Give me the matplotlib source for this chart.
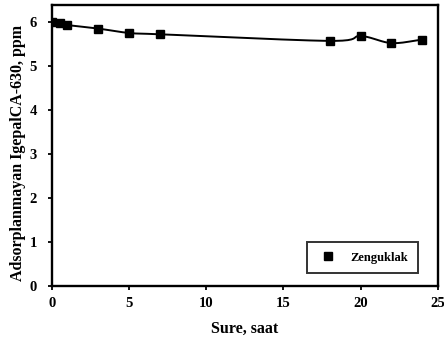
import numpy as np
import matplotlib
matplotlib.use("Agg")
import matplotlib.pyplot as plt

# Zenguklak series
sure = [0, 0.5, 1, 3, 5, 7, 18, 20, 22, 24]
ppm = [6.02, 5.98, 5.94, 5.86, 5.76, 5.73, 5.58, 5.69, 5.53, 5.61]
xticks = [0, 5, 10, 15, 20, 25]
yticks = [0, 1, 2, 3, 4, 5, 6]


def smooth(x, y, n=20):
    # Catmull-Rom curve through the points, like Excel's smoothed line
    x = np.asarray(x, float)
    y = np.asarray(y, float)
    px = np.concatenate([[2 * x[0] - x[1]], x, [2 * x[-1] - x[-2]]])
    py = np.concatenate([[2 * y[0] - y[1]], y, [2 * y[-1] - y[-2]]])
    xs, ys = [], []
    t = np.linspace(0, 1, n)
    for i in range(1, len(px) - 2):
        for p, out in ((px, xs), (py, ys)):
            p0, p1, p2, p3 = p[i - 1], p[i], p[i + 1], p[i + 2]
            out.extend(0.5 * (2 * p1 + (-p0 + p2) * t
                              + (2 * p0 - 5 * p1 + 4 * p2 - p3) * t ** 2
                              + (-p0 + 3 * p1 - 3 * p2 + p3) * t ** 3))
    return xs, ys


plt.rcParams['font.family'] = ['Liberation Serif', 'DejaVu Serif']
plt.rcParams['font.weight'] = 'bold'

fig = plt.figure(figsize=(4.44, 3.46), dpi=100)
ax = fig.add_axes([0.117, 0.173, 0.869, 0.813])

sx, sy = smooth(sure, ppm)
ax.plot(sx, sy, color='black', lw=1.4)
ax.plot(sure, ppm, 's', color='black', ms=5.5, label='Zenguklak')

ax.set_xlim(0, 25)
ax.set_ylim(0, 6.4)
ax.set_xticks(xticks)
ax.set_yticks(yticks)
ax.tick_params(direction='out', length=3, width=1.3, labelsize=10.5, pad=5)
ax.tick_params(axis='y', pad=8)
for s in ax.spines.values():
    s.set_linewidth(1.7)

ax.set_xlabel('Sure, saat', fontsize=11.5, fontweight='bold', labelpad=8)
ax.set_ylabel('Adsorplanmayan IgepalCA-630, ppm', fontsize=11.5, fontweight='bold')
ax.yaxis.set_label_coords(-0.068, 0.475)

leg = ax.legend(loc='lower right', bbox_to_anchor=(0.948, 0.046), borderaxespad=0,
                fontsize=9, frameon=True, fancybox=False, edgecolor='black',
                borderpad=0.75, handletextpad=0.9, handlelength=1.8)
leg.get_frame().set_linewidth(1.4)

fig.savefig('out.png', dpi=100)
